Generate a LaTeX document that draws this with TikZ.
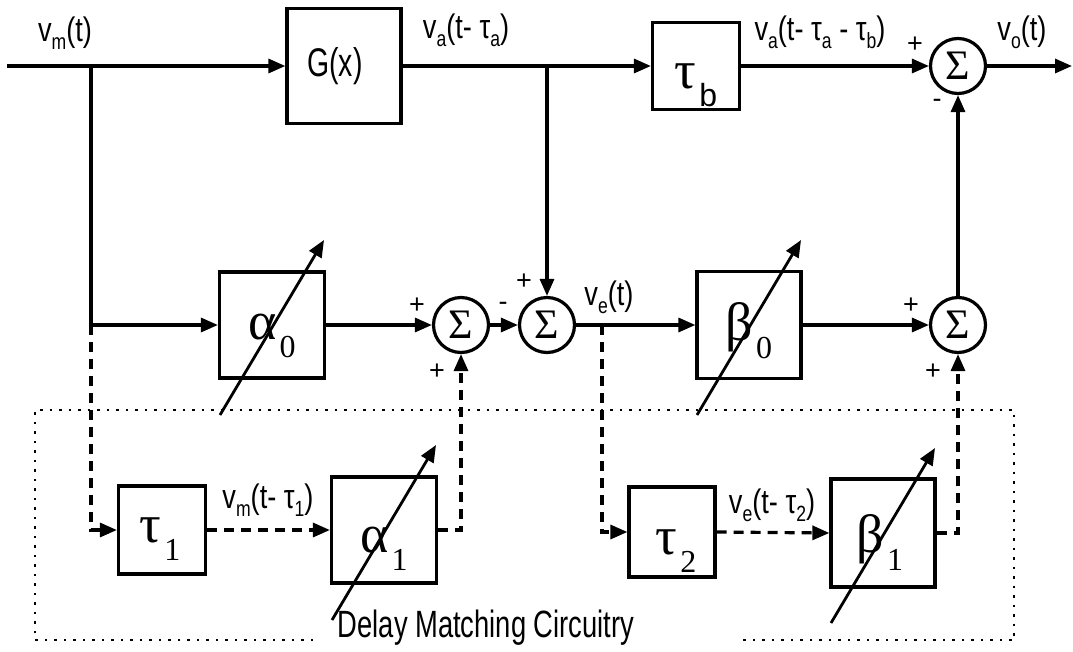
\documentclass[tikz,border=0pt]{standalone}
\usepackage{fontspec}
\usepackage{graphicx}
\usetikzlibrary{arrows.meta,calc}
\newfontfamily\lsans{Liberation Sans}
\newfontfamily\lserif{Liberation Serif}
\newcommand\lbl[1]{\scalebox{0.8}[1]{\lsans\fontsize{34}{34}\selectfont #1}}
\newcommand\sbs[1]{\raisebox{-8pt}{\fontsize{22}{22}\selectfont #1}}
\newcommand\boxlab[2]{{\lserif\fontsize{54}{54}\selectfont #1}\hspace{3pt}\raisebox{-18pt}{\lserif\fontsize{32}{32}\selectfont #2}}
\newcommand\sgn[1]{{\lsans\fontsize{27}{27}\selectfont #1}}
\begin{document}
\begin{tikzpicture}[x=1pt,y=-1pt,line width=3.2pt,
  >={Triangle[length=17pt,width=14pt]},
  blk/.style n args={2}{draw,inner sep=0pt,minimum width=#1pt,minimum height=#2pt},
  sumnode/.style={draw,circle,inner sep=0pt,minimum size=55pt,font=\lserif\fontsize{42}{42}\selectfont},
  dsh/.style={dash pattern=on 10pt off 7pt},
  dtd/.style={line width=2.6pt,dash pattern=on 2.5pt off 7pt},
  txt/.style={inner sep=0pt}]
\useasboundingbox (0,0) rectangle (1073,651);

% blocks
\node[blk={114}{115}] (G) at (344,66) {};
\node[txt] (Glab) at (335,66) {\scalebox{0.71}[1]{\lsans\fontsize{40}{40}\selectfont G(x)}};
\node[blk={87}{87}] (tb) at (696,66) {};
\node[sumnode] (stop) at (958,66) {Σ};

\node[blk={105}{106}] (a0) at (272,325) {};
\node[sumnode] (s1) at (461,325) {Σ};
\node[sumnode] (s2) at (547,325) {Σ};
\node[blk={104}{107}] (b0) at (749,325) {};
\node[sumnode] (s3) at (958,325) {Σ};

\node[blk={87}{88}] (t1) at (162,530) {};
\node[blk={105}{106}] (a1) at (384,530) {};
\node[blk={86}{90}] (t2) at (672,532) {};
\node[blk={104}{108}] (b1) at (883,533) {};

% block labels
\node[txt,anchor=base] (tblab) at ($(tb.center)+(0,22)$) {\boxlab{τ}{\lsans b}};
\node[txt,anchor=base] (a0lab) at ($(a0.center)+(0,14)$) {\boxlab{α}{0}};
\node[txt,anchor=base] (b0lab) at ($(b0.center)+(0,15)$) {\boxlab{β}{0}};
\node[txt,anchor=base] (t1lab) at ($(t1.center)+(-2,12)$) {\boxlab{τ}{1}};
\node[txt,anchor=base] (a1lab) at ($(a1.center)+(0,22)$) {\boxlab{α}{1}};
\node[txt,anchor=base] (t2lab) at ($(t2.center)+(4,22)$) {\boxlab{τ}{2}};
\node[txt,anchor=base] (b1lab) at ($(b1.center)+(-3,19)$) {\boxlab{β}{1}};

% coordinates
\coordinate (in) at (7,66);
\coordinate (br1) at (91,66);
\coordinate (br1m) at (91,325);
\coordinate (br2) at (547,66);
\coordinate (ve) at (602,325);
\coordinate (out) at (1072,66);

% solid connectors
\draw[->] (in) -- (G.west);
\draw (br1) -- (br1m);
\draw[->] (br1m) -- (a0.west);
\draw[->] (G.east) -- (tb.west);
\draw[->] (br2) -- (s2.north);
\draw[->] (tb.east) -- (stop.west);
\draw[->] (stop.east) -- (out);
\draw[->] (a0.east) -- (s1.west);
\draw[->] (s1.east) -- (s2.west);
\draw[->] (s2.east) -- (b0.west);
\draw[->] (b0.east) -- (s3.west);
\draw[->] (s3.north) -- (stop.south);

% dashed connectors
\draw[dsh,->] (br1m) |- (t1.west);
\draw[dsh,->] (t1.east) -- (a1.west);
\draw[dsh,->] (a1.east) -| (s1.south);
\draw[dsh,->] (ve) |- (t2.west);
\draw[dsh,->] (t2.east) -- (b1.west);
\draw[dsh,->] (b1.east) -| (s3.south);

% variable gain arrows
\foreach \n in {a0,b0,a1,b1}{
  \draw[->,line width=2.8pt] ($(\n.center)+(-52,90)$) -- ($(\n.center)+(52,-85)$);
}

% dotted enclosure
\draw[dtd] (313,640) -- (35,640) -- (35,410) -- (1014,410) -- (1014,640) -- (739,640);
\node[txt,anchor=base] (dmc) at (486,637) {\scalebox{0.72}[1]{\lsans\fontsize{38}{38}\selectfont Delay Matching Circuitry}};

% signal labels
\node[txt] (lvm) at (65,33) {\lbl{v\sbs{m}(t)}};
\node[txt] (lva) at (466,30) {\lbl{v\sbs{a}(t- τ\sbs{a})}};
\node[txt] (lvab) at (820,32) {\lbl{v\sbs{a}(t- τ\sbs{a} - τ\sbs{b})}};
\node[txt] (lvo) at (1022,32) {\lbl{v\sbs{o}(t)}};
\node[txt] (lve) at (609,297) {\lbl{v\sbs{e}(t)}};
\node[txt] (lvm1) at (268,500) {\lbl{v\sbs{m}(t- τ\sbs{1})}};
\node[txt] (lve2) at (772,505) {\lbl{v\sbs{e}(t- τ\sbs{2})}};

% signs
\node[txt] (p1) at (915,45) {\sgn{+}};
\node[txt] (m1) at (937,103) {\sgn{-}};
\node[txt] (p2) at (417,306) {\sgn{+}};
\node[txt] (p3) at (437,372) {\sgn{+}};
\node[txt] (m2) at (503,306) {\sgn{-}};
\node[txt] (p4) at (524,282) {\sgn{+}};
\node[txt] (p5) at (911,306) {\sgn{+}};
\node[txt] (p6) at (933,372) {\sgn{+}};
\end{tikzpicture}
\end{document}
